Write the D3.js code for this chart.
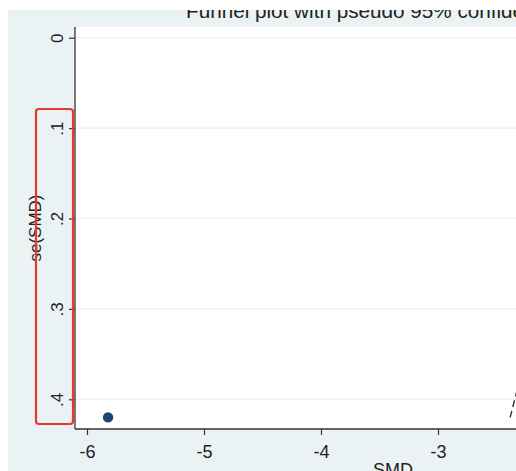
<!DOCTYPE html>
<html>
<head>
<meta charset="utf-8">
<script src="https://cdn.jsdelivr.net/npm/d3@7"></script>
<style>
  body { margin: 0; background: #fff; }
  svg text { font-family: "Liberation Sans", Arial, Helvetica, sans-serif; fill: #222; }
</style>
</head>
<body>
<div id="chart"></div>
<script>
// Chart size
const width = 516;
const height = 471;

// Study data (only one study visible in this crop)
const smd = [-5.82];
const seSMD = [0.42];

// Pooled estimate used for the pseudo 95% limits
const pooledSMD = -1.56;
const maxSE = 0.42;

// Tick values and labels (only the ones inside the crop)
const xTicks = [-6, -5, -4, -3];
const yTicks = [0, 0.1, 0.2, 0.3, 0.4];
const yTickLabels = ["0", ".1", ".2", ".3", ".4"];

const titleText = "Funnel plot with pseudo 95% confidence limits";
const xTitle = "SMD";
const yTitle = "se(SMD)";

// Plot region (it runs off the right edge of the picture)
const plot = { left: 75, top: 27, right: 900, bottom: 429 };

const svg = d3.select('#chart')
    .append('svg')
    .attr('width', width)
    .attr('height', height);

// Graph region background
svg.append('rect')
    .attr('width', width)
    .attr('height', height)
    .attr('fill', '#eaf2f3');

// Scales
const x = d3.scaleLinear()
    .domain([-6, -3])
    .range([87, 438]);

const y = d3.scaleLinear()
    .domain([0, 0.4])
    .range([37.7, 399.3]);

// White plot region
svg.append('rect')
    .attr('x', plot.left)
    .attr('y', plot.top)
    .attr('width', plot.right - plot.left)
    .attr('height', plot.bottom - plot.top)
    .attr('fill', '#fff');

svg.append('clipPath').attr('id', 'clip')
    .append('rect')
    .attr('x', plot.left)
    .attr('y', plot.top)
    .attr('width', plot.right - plot.left)
    .attr('height', plot.bottom - plot.top);

// Horizontal gridlines
svg.append('g')
    .selectAll('line')
    .data(yTicks)
    .join('line')
      .attr('x1', plot.left)
      .attr('x2', plot.right)
      .attr('y1', d => y(d))
      .attr('y2', d => y(d))
      .attr('stroke', '#eaf2f3')
      .attr('stroke-width', 1.2);

// Pseudo 95% confidence limits + pooled line
const g = svg.append('g').attr('clip-path', 'url(#clip)');
const limits = [
    [[pooledSMD, 0], [pooledSMD - 1.96 * maxSE, maxSE]],
    [[pooledSMD, 0], [pooledSMD + 1.96 * maxSE, maxSE]],
    [[pooledSMD, 0], [pooledSMD, maxSE]]
];
g.selectAll('path.limit')
    .data(limits)
    .join('path')
      .attr('class', 'limit')
      .attr('d', d3.line().x(d => x(d[0])).y(d => y(d[1])))
      .attr('fill', 'none')
      .attr('stroke', '#333')
      .attr('stroke-width', 1.4)
      .attr('stroke-dasharray', (d, i) => i < 2 ? '7,4' : null);

// Study points
g.selectAll('circle')
    .data(smd.map((d, i) => ({ smd: d, se: seSMD[i] })))
    .join('circle')
      .attr('cx', d => x(d.smd))
      .attr('cy', d => y(d.se))
      .attr('r', 5.2)
      .attr('fill', '#1a476f');

// X axis
const xAxis = svg.append('g')
    .attr('transform', `translate(0,${plot.bottom})`)
    .call(d3.axisBottom(x).tickValues(xTicks).tickSize(6).tickPadding(10).tickFormat(d3.format('d')));
xAxis.select('.domain').attr('d', `M${plot.left},0H${plot.right}`).attr('stroke', '#333').attr('stroke-width', 1.3);
xAxis.selectAll('.tick line').attr('stroke', '#333').attr('stroke-width', 1.2);
xAxis.selectAll('.tick text')
    .attr('font-size', 18)
    .attr('fill', '#222')
    .text(d => d < 0 ? '-' + Math.abs(d) : d);

// Y axis
const yAxis = svg.append('g')
    .attr('transform', `translate(${plot.left},0)`)
    .call(d3.axisLeft(y).tickValues(yTicks).tickSize(6).tickFormat((d, i) => yTickLabels[i]));
yAxis.select('.domain').attr('d', `M0,${plot.top}V${plot.bottom}`).attr('stroke', '#333').attr('stroke-width', 1.3);
yAxis.selectAll('.tick line').attr('stroke', '#333').attr('stroke-width', 1.2);
yAxis.selectAll('.tick text')
    .attr('font-size', 17)
    .attr('fill', '#222')
    .attr('x', null)
    .attr('dy', null)
    .attr('text-anchor', 'middle')
    .attr('transform', 'translate(-12,0) rotate(-90)');

// Axis titles
svg.append('text')
    .attr('x', 393)
    .attr('y', 476)
    .attr('text-anchor', 'middle')
    .attr('font-size', 18)
    .text(xTitle);

svg.append('text')
    .attr('transform', 'translate(41,228) rotate(-90)')
    .attr('text-anchor', 'middle')
    .attr('font-size', 17)
    .text(yTitle);

// Title
svg.append('text')
    .attr('x', 186)
    .attr('y', 18)
    .attr('font-size', 20.7)
    .text(titleText);

// White margins of the cropped image
svg.append('rect').attr('width', width).attr('height', 10).attr('fill', '#fff');
svg.append('rect').attr('width', 8).attr('height', height).attr('fill', '#fff');

// Red highlight box around the y tick labels
svg.append('rect')
    .attr('x', 36)
    .attr('y', 109)
    .attr('width', 37)
    .attr('height', 315)
    .attr('rx', 3)
    .attr('fill', 'none')
    .attr('stroke', '#e8392f')
    .attr('stroke-width', 2.2);
</script>
</body>
</html>
